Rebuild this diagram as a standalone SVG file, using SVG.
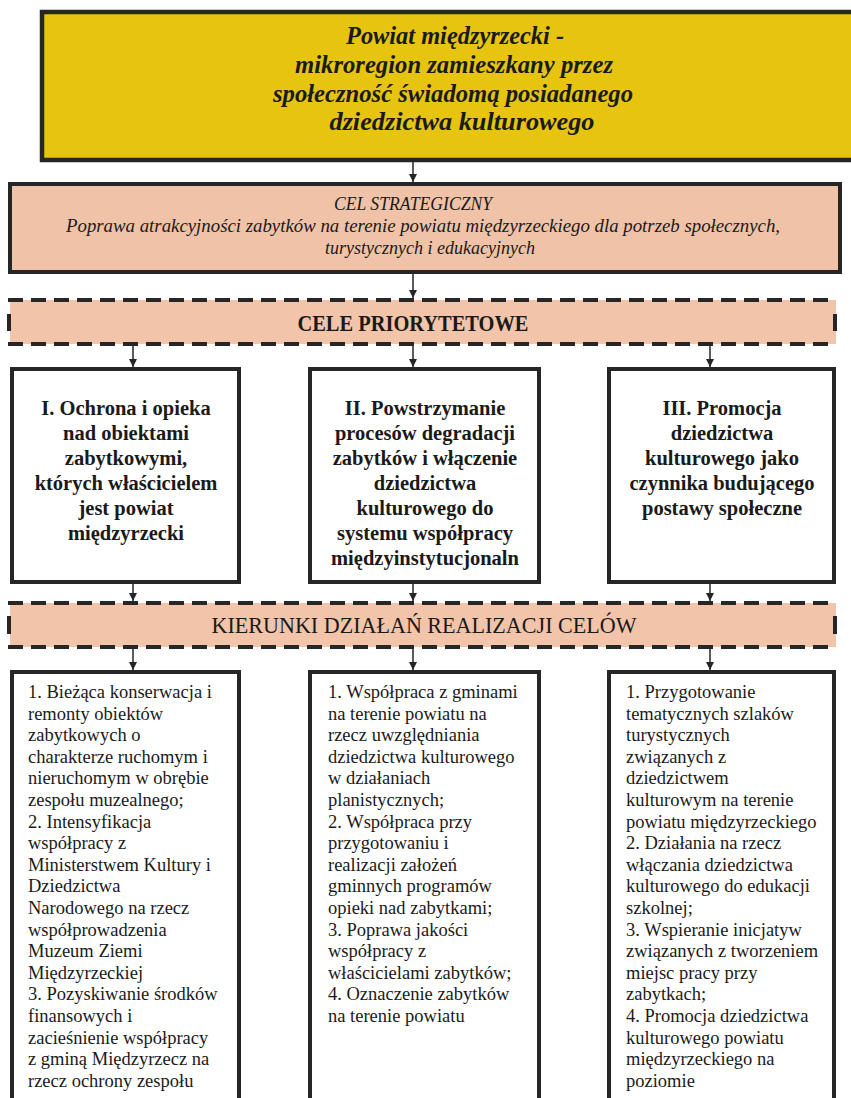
<svg xmlns="http://www.w3.org/2000/svg" width="851" height="1098" viewBox="0 0 851 1098">
<style>
.serif{font-family:"Liberation Serif","Times New Roman","DejaVu Serif",serif;fill:#1a1a1a}
.hd{font-weight:bold;font-style:italic;font-size:25px}
.st{font-style:italic;font-size:18px}
.band{font-size:23px}
.pr{font-weight:bold;font-size:20.5px}
.bx{font-size:18.5px}
.box{stroke:#262626;stroke-width:4;fill:#ffffff}
.dash{stroke:#262626;stroke-width:4;stroke-dasharray:15 8;fill:none}
.conn line{stroke:#262626;stroke-width:1.5}
</style>
<defs>
<marker id="ah" viewBox="0 0 10 10" refX="10" refY="5" markerWidth="8" markerHeight="8" markerUnits="userSpaceOnUse" orient="auto">
<path d="M0,0 L10,5 L0,10 Z" fill="#262626"/>
</marker>
</defs>
<rect width="851" height="1098" fill="#ffffff"/>

<g id="top">
<rect x="42" y="12" width="820" height="148" fill="#e6c40f" stroke="#262626" stroke-width="4.5"/>
<text class="serif hd" text-anchor="middle" x="455" y="44" textLength="218" lengthAdjust="spacingAndGlyphs">Powiat międzyrzecki -</text>
<text class="serif hd" text-anchor="middle" x="454" y="73" textLength="318" lengthAdjust="spacingAndGlyphs">mikroregion zamieszkany przez</text>
<text class="serif hd" text-anchor="middle" x="453" y="102" textLength="360" lengthAdjust="spacingAndGlyphs">społeczność świadomą posiadanego</text>
<text class="serif hd" text-anchor="middle" x="462" y="130" textLength="265" lengthAdjust="spacingAndGlyphs">dziedzictwa kulturowego</text>
</g>

<g id="strategic">
<rect x="10" y="184" width="830" height="88" fill="#f0c2a7" stroke="#262626" stroke-width="4"/>
<text class="serif st" text-anchor="middle" x="413" y="210" textLength="158" lengthAdjust="spacingAndGlyphs">CEL STRATEGICZNY</text>
<text class="serif st" text-anchor="middle" x="423" y="232" textLength="714" lengthAdjust="spacingAndGlyphs">Poprawa atrakcyjności zabytków na terenie powiatu międzyrzeckiego dla potrzeb społecznych,</text>
<text class="serif st" text-anchor="middle" x="430" y="254" textLength="210" lengthAdjust="spacingAndGlyphs">turystycznych i edukacyjnych</text>
</g>

<g id="priorities-band">
<rect x="10" y="300" width="826" height="44" fill="#f2c4a9"/>
<line class="dash" x1="8" y1="300" x2="836" y2="300"/>
<line class="dash" x1="8" y1="344" x2="836" y2="344"/>
<line x1="9" y1="314" x2="9" y2="331" stroke="#262626" stroke-width="4"/>
<line x1="835" y1="314" x2="835" y2="331" stroke="#262626" stroke-width="4"/>
<text class="serif band" font-weight="bold" text-anchor="middle" x="413" y="331" textLength="231" lengthAdjust="spacingAndGlyphs">CELE PRIORYTETOWE</text>
</g>

<g id="goal-1">
<rect class="box" x="12" y="369" width="227" height="213"/>
<text class="serif pr" text-anchor="middle" x="126" y="415">I. Ochrona i opieka</text>
<text class="serif pr" text-anchor="middle" x="126" y="440">nad obiektami</text>
<text class="serif pr" text-anchor="middle" x="126" y="465">zabytkowymi,</text>
<text class="serif pr" text-anchor="middle" x="126" y="490">których właścicielem</text>
<text class="serif pr" text-anchor="middle" x="126" y="515">jest powiat</text>
<text class="serif pr" text-anchor="middle" x="126" y="540">międzyrzecki</text>
</g>

<g id="goal-2">
<rect class="box" x="310" y="369" width="229" height="213"/>
<text class="serif pr" text-anchor="middle" x="425" y="415">II. Powstrzymanie</text>
<text class="serif pr" text-anchor="middle" x="425" y="440">procesów degradacji</text>
<text class="serif pr" text-anchor="middle" x="425" y="465">zabytków i włączenie</text>
<text class="serif pr" text-anchor="middle" x="425" y="490">dziedzictwa</text>
<text class="serif pr" text-anchor="middle" x="425" y="515">kulturowego do</text>
<text class="serif pr" text-anchor="middle" x="425" y="540">systemu współpracy</text>
<text class="serif pr" text-anchor="middle" x="425" y="565">międzyinstytucjonaln</text>
</g>

<g id="goal-3">
<rect class="box" x="609" y="369" width="225" height="213"/>
<text class="serif pr" text-anchor="middle" x="722" y="415">III. Promocja</text>
<text class="serif pr" text-anchor="middle" x="722" y="440">dziedzictwa</text>
<text class="serif pr" text-anchor="middle" x="722" y="465">kulturowego jako</text>
<text class="serif pr" text-anchor="middle" x="722" y="490">czynnika budującego</text>
<text class="serif pr" text-anchor="middle" x="722" y="515">postawy społeczne</text>
</g>

<g id="directions-band">
<rect x="10" y="603" width="826" height="44" fill="#f2c4a9"/>
<line class="dash" x1="8" y1="603" x2="836" y2="603"/>
<line class="dash" x1="8" y1="647" x2="836" y2="647"/>
<line x1="9" y1="616" x2="9" y2="634" stroke="#262626" stroke-width="4"/>
<line x1="835" y1="616" x2="835" y2="634" stroke="#262626" stroke-width="4"/>
<text class="serif band" text-anchor="middle" x="424" y="633" textLength="425" lengthAdjust="spacingAndGlyphs">KIERUNKI DZIAŁAŃ REALIZACJI CELÓW</text>
</g>

<g id="actions-1">
<rect class="box" x="12" y="672" width="227" height="440"/>
<text class="serif bx" x="28" y="698">
<tspan x="28" dy="0">1. Bieżąca konserwacja i</tspan>
<tspan x="28" dy="21.6">remonty obiektów</tspan>
<tspan x="28" dy="21.6">zabytkowych o</tspan>
<tspan x="28" dy="21.6">charakterze ruchomym i</tspan>
<tspan x="28" dy="21.6">nieruchomym w obrębie</tspan>
<tspan x="28" dy="21.6">zespołu muzealnego;</tspan>
<tspan x="28" dy="21.6">2. Intensyfikacja</tspan>
<tspan x="28" dy="21.6">współpracy z</tspan>
<tspan x="28" dy="21.6">Ministerstwem Kultury i</tspan>
<tspan x="28" dy="21.6">Dziedzictwa</tspan>
<tspan x="28" dy="21.6">Narodowego na rzecz</tspan>
<tspan x="28" dy="21.6">współprowadzenia</tspan>
<tspan x="28" dy="21.6">Muzeum Ziemi</tspan>
<tspan x="28" dy="21.6">Międzyrzeckiej</tspan>
<tspan x="28" dy="21.6">3. Pozyskiwanie środków</tspan>
<tspan x="28" dy="21.6">finansowych i</tspan>
<tspan x="28" dy="21.6">zacieśnienie współpracy</tspan>
<tspan x="28" dy="21.6">z gminą Międzyrzecz na</tspan>
<tspan x="28" dy="21.6">rzecz ochrony zespołu</tspan>
</text>
</g>

<g id="actions-2">
<rect class="box" x="310" y="672" width="229" height="440"/>
<text class="serif bx" x="328" y="698">
<tspan x="328" dy="0">1. Współpraca z gminami</tspan>
<tspan x="328" dy="21.6">na terenie powiatu na</tspan>
<tspan x="328" dy="21.6">rzecz uwzględniania</tspan>
<tspan x="328" dy="21.6">dziedzictwa kulturowego</tspan>
<tspan x="328" dy="21.6">w działaniach</tspan>
<tspan x="328" dy="21.6">planistycznych;</tspan>
<tspan x="328" dy="21.6">2. Współpraca przy</tspan>
<tspan x="328" dy="21.6">przygotowaniu i</tspan>
<tspan x="328" dy="21.6">realizacji założeń</tspan>
<tspan x="328" dy="21.6">gminnych programów</tspan>
<tspan x="328" dy="21.6">opieki nad zabytkami;</tspan>
<tspan x="328" dy="21.6">3. Poprawa jakości</tspan>
<tspan x="328" dy="21.6">współpracy z</tspan>
<tspan x="328" dy="21.6">właścicielami zabytków;</tspan>
<tspan x="328" dy="21.6">4. Oznaczenie zabytków</tspan>
<tspan x="328" dy="21.6">na terenie powiatu</tspan>
</text>
</g>

<g id="actions-3">
<rect class="box" x="609" y="672" width="225" height="440"/>
<text class="serif bx" x="626" y="698">
<tspan x="626" dy="0">1. Przygotowanie</tspan>
<tspan x="626" dy="21.6">tematycznych szlaków</tspan>
<tspan x="626" dy="21.6">turystycznych</tspan>
<tspan x="626" dy="21.6">związanych z</tspan>
<tspan x="626" dy="21.6">dziedzictwem</tspan>
<tspan x="626" dy="21.6">kulturowym na terenie</tspan>
<tspan x="626" dy="21.6">powiatu międzyrzeckiego</tspan>
<tspan x="626" dy="21.6">2. Działania na rzecz</tspan>
<tspan x="626" dy="21.6">włączania dziedzictwa</tspan>
<tspan x="626" dy="21.6">kulturowego do edukacji</tspan>
<tspan x="626" dy="21.6">szkolnej;</tspan>
<tspan x="626" dy="21.6">3. Wspieranie inicjatyw</tspan>
<tspan x="626" dy="21.6">związanych z tworzeniem</tspan>
<tspan x="626" dy="21.6">miejsc pracy przy</tspan>
<tspan x="626" dy="21.6">zabytkach;</tspan>
<tspan x="626" dy="21.6">4. Promocja dziedzictwa</tspan>
<tspan x="626" dy="21.6">kulturowego powiatu</tspan>
<tspan x="626" dy="21.6">międzyrzeckiego na</tspan>
<tspan x="626" dy="21.6">poziomie</tspan>
</text>
</g>

<g id="connectors" class="conn">
<line x1="413" y1="162" x2="413" y2="182" marker-end="url(#ah)"/>
<line x1="413" y1="274" x2="413" y2="298" marker-end="url(#ah)"/>
<line x1="133" y1="346" x2="133" y2="367" marker-end="url(#ah)"/>
<line x1="413" y1="346" x2="413" y2="367" marker-end="url(#ah)"/>
<line x1="710" y1="346" x2="710" y2="367" marker-end="url(#ah)"/>
<line x1="133" y1="584" x2="133" y2="601" marker-end="url(#ah)"/>
<line x1="413" y1="584" x2="413" y2="601" marker-end="url(#ah)"/>
<line x1="710" y1="584" x2="710" y2="601" marker-end="url(#ah)"/>
<line x1="133" y1="649" x2="133" y2="670" marker-end="url(#ah)"/>
<line x1="413" y1="649" x2="413" y2="670" marker-end="url(#ah)"/>
<line x1="710" y1="649" x2="710" y2="670" marker-end="url(#ah)"/>
</g>
</svg>
